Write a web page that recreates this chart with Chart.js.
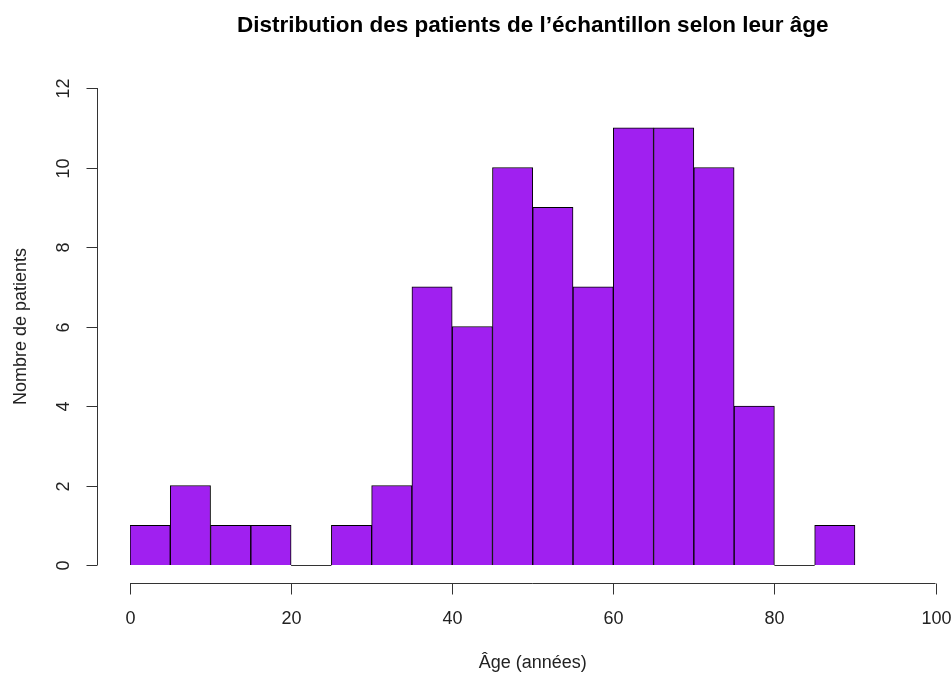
<!DOCTYPE html>
<html>
<head>
<meta charset="utf-8">
<script src="https://cdn.jsdelivr.net/npm/chart.js@4"></script>
<style>
  html, body { margin: 0; padding: 0; background: #fff; }
  #wrap { width: 951px; height: 673px; }
</style>
</head>
<body>
<div id="wrap"><canvas id="hist"></canvas></div>
<script>
// bornes des classes (pas de 5 ans) et effectifs
const binStarts = [0, 5, 10, 15, 20, 25, 30, 35, 40, 45, 50, 55, 60, 65, 70, 75, 80, 85];
const counts = [1, 2, 1, 1, 0, 1, 2, 7, 6, 10, 9, 7, 11, 11, 10, 4, 0, 1];
const binWidth = 5;
const xTicks = [0, 20, 40, 60, 80, 100];
const yTicks = [0, 2, 4, 6, 8, 10, 12];

const title = "Distribution des patients de l\u2019échantillon selon leur âge";
const xTitle = "Âge (années)";
const yTitle = "Nombre de patients";

const FONT = "'Liberation Sans', Arial, sans-serif";

// axes façon R (détachés de la zone de tracé)
const rAxes = {
  id: "rAxes",
  afterDraw(chart) {
    const { ctx, chartArea: { top, bottom, left, right }, scales: { x, y } } = chart;
    ctx.save();
    ctx.strokeStyle = "#333";
    ctx.fillStyle = "#222";
    ctx.lineWidth = 1;

    // classes vides : trait sur la ligne de base
    binStarts.forEach((b, i) => {
      if (counts[i] !== 0) return;
      const py = Math.round(y.getPixelForValue(0)) + 0.5;
      ctx.beginPath();
      ctx.moveTo(x.getPixelForValue(b), py);
      ctx.lineTo(x.getPixelForValue(b + binWidth), py);
      ctx.stroke();
    });

    // axe x
    const ax = 583.5;
    ctx.beginPath();
    ctx.moveTo(x.getPixelForValue(xTicks[0]), ax);
    ctx.lineTo(x.getPixelForValue(xTicks[xTicks.length - 1]), ax);
    ctx.stroke();
    ctx.font = "18px " + FONT;
    ctx.textAlign = "center";
    ctx.textBaseline = "middle";
    xTicks.forEach((t) => {
      const px = Math.round(x.getPixelForValue(t)) + 0.5;
      ctx.beginPath();
      ctx.moveTo(px, ax);
      ctx.lineTo(px, ax + 11);
      ctx.stroke();
      ctx.fillText(String(t), px, 619);
    });

    // axe y
    const ay = 97.5;
    ctx.beginPath();
    ctx.moveTo(ay, y.getPixelForValue(yTicks[0]));
    ctx.lineTo(ay, y.getPixelForValue(yTicks[yTicks.length - 1]));
    ctx.stroke();
    yTicks.forEach((t) => {
      const py = Math.round(y.getPixelForValue(t)) + 0.5;
      ctx.beginPath();
      ctx.moveTo(ay, py);
      ctx.lineTo(ay - 11, py);
      ctx.stroke();
      ctx.save();
      ctx.translate(64, py);
      ctx.rotate(-Math.PI / 2);
      ctx.fillText(String(t), 0, 0);
      ctx.restore();
    });

    // titres
    ctx.fillText(xTitle, (left + right) / 2, 663);
    ctx.save();
    ctx.translate(21, (top + bottom) / 2);
    ctx.rotate(-Math.PI / 2);
    ctx.fillText(yTitle, 0, 0);
    ctx.restore();

    ctx.fillStyle = "#000";
    ctx.font = "bold 22.5px " + FONT;
    ctx.fillText(title, (left + right) / 2, 26);
    ctx.restore();
  },
};

new Chart(document.getElementById("hist"), {
  type: "bar",
  data: {
    datasets: [
      {
        data: binStarts.map((b, i) => ({ x: b + binWidth / 2, y: counts[i] === 0 ? null : counts[i] })),
        backgroundColor: "#A020F0",
        borderColor: "#000",
        borderWidth: 1,
        barPercentage: 1,
        categoryPercentage: 1,
      },
    ],
  },
  options: {
    responsive: true,
    maintainAspectRatio: false,
    animation: false,
    layout: { padding: { left: 130, right: 15.5, top: 88, bottom: 108 } },
    plugins: { legend: { display: false }, tooltip: { enabled: false } },
    scales: {
      x: { type: "linear", min: 0, max: 100, offset: false, display: false },
      y: { min: 0, max: 12, display: false },
    },
  },
  plugins: [rAxes],
});
</script>
</body>
</html>
